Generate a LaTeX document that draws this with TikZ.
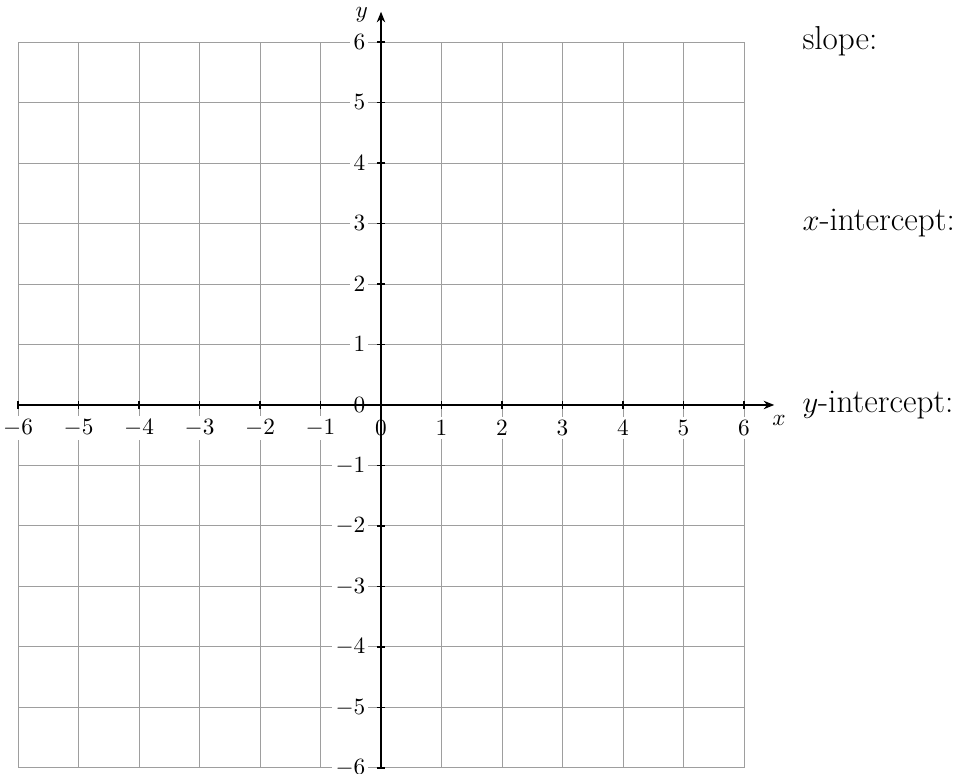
\documentclass[tikz,border=0pt]{standalone}
\usetikzlibrary{arrows.meta}
\begin{document}
\begin{tikzpicture}[
  gridline/.style={draw=black!38, line width=0.45pt},
  axisline/.style={draw=black, line width=0.6pt, -{Stealth[length=5pt,width=4pt]}},
  tickmark/.style={draw=black, line width=0.8pt},
  ticklabel/.style={fill=white, inner sep=1.5pt, font=\fontsize{11}{13}\selectfont},
  sidelabel/.style={anchor=base west, inner sep=0pt, font=\fontsize{15.6}{19}\selectfont},
  axlabel/.style={inner sep=1pt, font=\fontsize{11}{13}\selectfont}
]
\useasboundingbox (-6.298,-6.099) rectangle (9.587,6.694);
\draw[gridline] (-6,-6) grid (6,6);
\foreach \i in {-6,...,6} {
  \node[ticklabel] (xl\i) at (\i,-0.38) {$\i$};
  \node[ticklabel, anchor=east] (yl\i) at (-0.2,\i) {$\i$};
}
\draw[axisline] (-6,0) -- (6.5,0) coordinate (xend);
\draw[axisline] (0,-6) -- (0,6.5) coordinate (yend);
\foreach \i in {-6,...,6} {
  \draw[tickmark] (\i,-0.07) -- (\i,0.07);
  \draw[tickmark] (-0.07,\i) -- (0.07,\i);
}
\node[axlabel] (xlab) at (6.58,-0.25) {$x$};
\node[axlabel] (ylab) at (-0.32,6.45) {$y$};
\node[sidelabel] (slope) at (6.96,5.88) {slope:};
\node[sidelabel] (xint) at (6.96,2.88) {$x$-intercept:};
\node[sidelabel] (yint) at (6.96,-0.12) {$y$-intercept:};
\end{tikzpicture}
\end{document}
